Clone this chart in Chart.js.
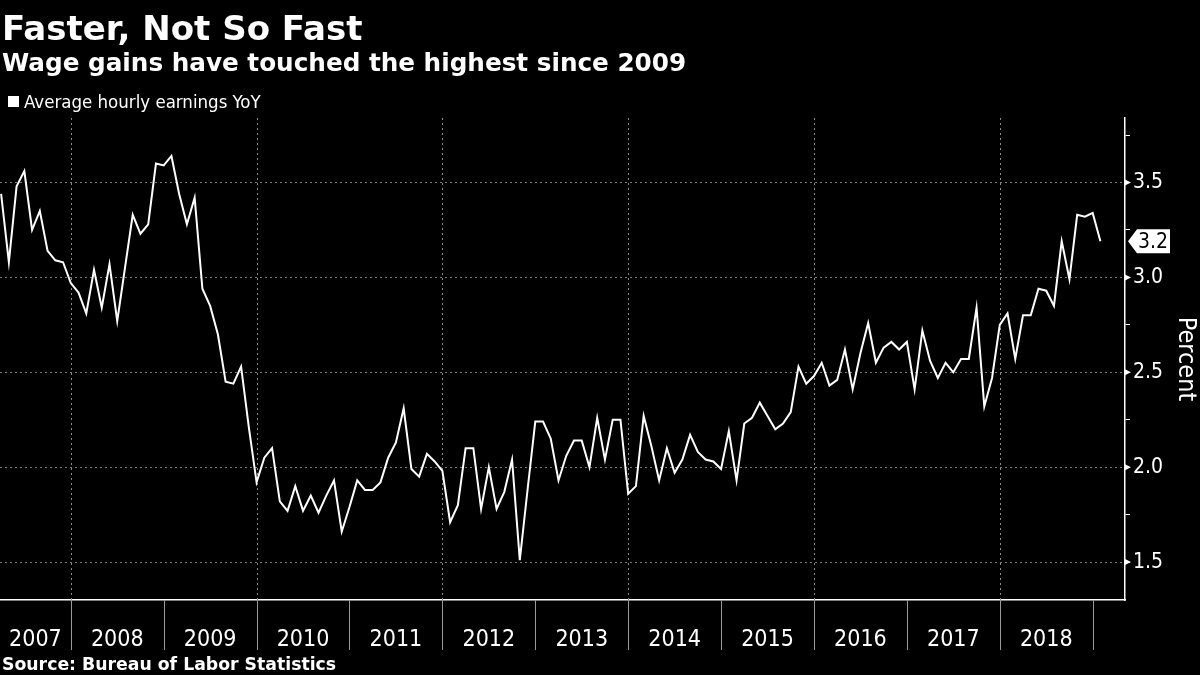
<!DOCTYPE html>
<html>
<head>
<meta charset="utf-8">
<script src="https://cdn.jsdelivr.net/npm/chart.js@4.4.1/dist/chart.umd.min.js"></script>
<style>
  html, body { margin: 0; padding: 0; background: #000; }
  #wrap { position: relative; width: 1200px; height: 675px; background: #000; overflow: hidden; }
  #wrap canvas { position: absolute; left: 0; top: 0; }
  .txt { position: absolute; color: #fff; white-space: nowrap; line-height: 1; }
  #title { left: 2px; top: 8px; font: bold 34px 'DejaVu Sans', sans-serif; }
  #subtitle { left: 2px; top: 48px; font: bold 24.7px 'DejaVu Sans', sans-serif; }
  #legend { left: 8px; top: 91px; font: 18.5px 'DejaVu Sans Condensed', sans-serif; }
  #legend span { display: inline-block; width: 11px; height: 11px; background: #fff; margin-right: 5px; vertical-align: 1px; }
  #source { left: 2px; top: 654px; font: bold 17.3px 'DejaVu Sans', sans-serif; }
</style>
</head>
<body>
<div id="wrap">
  <canvas id="myChart" width="1200" height="675"></canvas>
  <div class="txt" id="title">Faster, Not So Fast</div>
  <div class="txt" id="subtitle">Wage gains have touched the highest since 2009</div>
  <div class="txt" id="legend"><span></span>Average hourly earnings YoY</div>
  <div class="txt" id="source">Source: Bureau of Labor Statistics</div>
</div>
<script>
// monthly series, first point is March 2007, last is January 2019
const firstYear = 2007;
const firstMonth = 3;
const years = ["2007", "2008", "2009", "2010", "2011", "2012", "2013", "2014", "2015", "2016", "2017", "2018"];
const yTicks = [1.5, 2.0, 2.5, 3.0, 3.5];

const earningsYoY = [
    // 2007 (Mar-Dec)
    3.44, 3.08, 3.48, 3.56, 3.25, 3.35, 3.14, 3.09, 3.08, 2.97,
    // 2008
    2.92, 2.81, 3.04, 2.84, 3.07, 2.77, 3.05, 3.33, 3.23, 3.28, 3.60, 3.59,
    // 2009
    3.64, 3.44, 3.28, 3.42, 2.94, 2.85, 2.70, 2.45, 2.44, 2.53, 2.21, 1.92,
    // 2010
    2.05, 2.10, 1.82, 1.77, 1.90, 1.77, 1.85, 1.76, 1.85, 1.93, 1.66, 1.79,
    // 2011
    1.93, 1.88, 1.88, 1.92, 2.05, 2.13, 2.31, 1.99, 1.95, 2.07, 2.03, 1.98,
    // 2012
    1.71, 1.80, 2.10, 2.10, 1.78, 2.00, 1.78, 1.87, 2.04, 1.51, 1.88, 2.24,
    // 2013
    2.24, 2.15, 1.93, 2.06, 2.14, 2.14, 2.00, 2.26, 2.04, 2.25, 2.25, 1.86,
    // 2014
    1.90, 2.27, 2.11, 1.93, 2.10, 1.97, 2.04, 2.17, 2.08, 2.04, 2.03, 1.99,
    // 2015
    2.19, 1.93, 2.23, 2.26, 2.34, 2.27, 2.20, 2.23, 2.29, 2.53, 2.44, 2.48,
    // 2016
    2.55, 2.43, 2.46, 2.62, 2.41, 2.60, 2.76, 2.55, 2.63, 2.66, 2.62, 2.66,
    // 2017
    2.41, 2.72, 2.56, 2.47, 2.55, 2.50, 2.57, 2.57, 2.84, 2.32, 2.47, 2.75,
    // 2018
    2.81, 2.57, 2.80, 2.80, 2.94, 2.93, 2.85, 3.19, 2.99, 3.33, 3.32, 3.34,
    // 2019
    3.19
];

// each point sits at the end of its month, in fractional years
const points = earningsYoY.map((v, i) => ({ x: firstYear + (firstMonth + i) / 12, y: v }));

const xMin = 2007.238;
const xMax = 2019.348;
const yMin = 1.3;
const yMax = 3.84;

const axisFont = "'DejaVu Sans Condensed', 'DejaVu Sans', sans-serif";

// year labels sit in the middle of the visible part of each year
const labelPos = years.map(y => {
    const a = Math.max(Number(y), xMin);
    const b = Math.min(Number(y) + 1, xMax);
    return (a + b) / 2;
});

const isMajor = v => Math.abs(v * 2 - Math.round(v * 2)) < 1e-6;

const extras = {
    id: "extras",
    beforeDatasetsDraw(chart) {
        const { ctx, chartArea, scales } = chart;
        const x = scales.x;
        ctx.save();
        // vertical dashed grid every two years
        ctx.strokeStyle = "#8a8a8a";
        ctx.lineWidth = 1;
        ctx.setLineDash([2, 3]);
        for (let yr = 2008; yr <= 2018; yr += 2) {
            const px = Math.round(x.getPixelForValue(yr)) + 0.5;
            ctx.beginPath();
            ctx.moveTo(px, chartArea.top);
            ctx.lineTo(px, chartArea.bottom);
            ctx.stroke();
        }
        // year separators under the axis
        ctx.setLineDash([]);
        ctx.strokeStyle = "#9a9a9a";
        for (let yr = 2008; yr <= 2019; yr++) {
            const px = Math.round(x.getPixelForValue(yr)) + 0.5;
            ctx.beginPath();
            ctx.moveTo(px, chartArea.bottom);
            ctx.lineTo(px, chartArea.bottom + 50);
            ctx.stroke();
        }
        ctx.restore();
    },
    afterDraw(chart) {
        const { ctx, chartArea, scales } = chart;
        const y = scales.y;
        ctx.save();
        // little pointers at the labelled ticks
        ctx.fillStyle = "#fff";
        yTicks.forEach(v => {
            const py = y.getPixelForValue(v);
            ctx.beginPath();
            ctx.moveTo(chartArea.right, py - 3);
            ctx.lineTo(chartArea.right + 6, py);
            ctx.lineTo(chartArea.right, py + 3);
            ctx.closePath();
            ctx.fill();
        });
        // last value tag
        const last = earningsYoY[earningsYoY.length - 1];
        const py = y.getPixelForValue(last);
        const left = chartArea.right + 3;
        ctx.beginPath();
        ctx.moveTo(left, py);
        ctx.lineTo(left + 9, py - 12);
        ctx.lineTo(left + 42, py - 12);
        ctx.lineTo(left + 42, py + 12);
        ctx.lineTo(left + 9, py + 12);
        ctx.closePath();
        ctx.fill();
        ctx.fillStyle = "#000";
        ctx.font = "21px " + axisFont;
        ctx.textAlign = "left";
        ctx.textBaseline = "middle";
        ctx.fillText(last.toFixed(1), left + 10, py + 1);
        ctx.restore();
    }
};

const config = {
    type: "line",
    data: {
        datasets: [
            {
                label: "Average hourly earnings YoY",
                data: points,
                borderColor: "#ffffff",
                borderWidth: 2,
                pointRadius: 0,
                tension: 0,
            },
        ],
    },
    options: {
        responsive: false,
        animation: false,
        layout: { padding: { top: 118, left: 0, right: 0, bottom: 0 } },
        plugins: {
            legend: { display: false },
            tooltip: { enabled: false },
        },
        scales: {
            x: {
                type: "linear",
                min: xMin,
                max: xMax,
                afterBuildTicks: s => { s.ticks = labelPos.map(v => ({ value: v })); },
                afterFit: s => {
                    s.height = 75;
                    s.paddingLeft = 0;
                    s.paddingRight = 0;
                },
                grid: { display: false },
                border: { display: true, color: "#ffffff", width: 1.5 },
                ticks: {
                    color: "#ffffff",
                    font: { family: axisFont, size: 23 },
                    padding: 18,
                    maxRotation: 0,
                    autoSkip: false,
                    callback: v => String(Math.floor(v)),
                },
            },
            y: {
                position: "right",
                min: yMin,
                max: yMax,
                afterBuildTicks: s => {
                    const t = [];
                    for (let v = 1.5; v <= 3.75 + 1e-9; v += 0.25) t.push({ value: Math.round(v * 100) / 100 });
                    s.ticks = t;
                },
                afterFit: s => { s.width = 75; },
                grid: {
                    color: c => (c.tick && isMajor(c.tick.value) ? "#7a7a7a" : "rgba(0,0,0,0)"),
                    tickColor: "#ffffff",
                    tickLength: 5,
                    lineWidth: 1,
                },
                border: { display: true, color: "#ffffff", width: 1.5, dash: [2, 3] },
                ticks: {
                    color: "#ffffff",
                    font: { family: axisFont, size: 21 },
                    padding: 3,
                    autoSkip: false,
                    callback: v => (isMajor(v) ? v.toFixed(1) : ""),
                },
                title: {
                    display: true,
                    text: "Percent",
                    color: "#ffffff",
                    font: { family: axisFont, size: 25 },
                    padding: { top: 0, bottom: 2 },
                },
            },
        },
    },
    plugins: [extras],
};

const myChart = new Chart(document.getElementById("myChart"), config);
</script>
</body>
</html>
